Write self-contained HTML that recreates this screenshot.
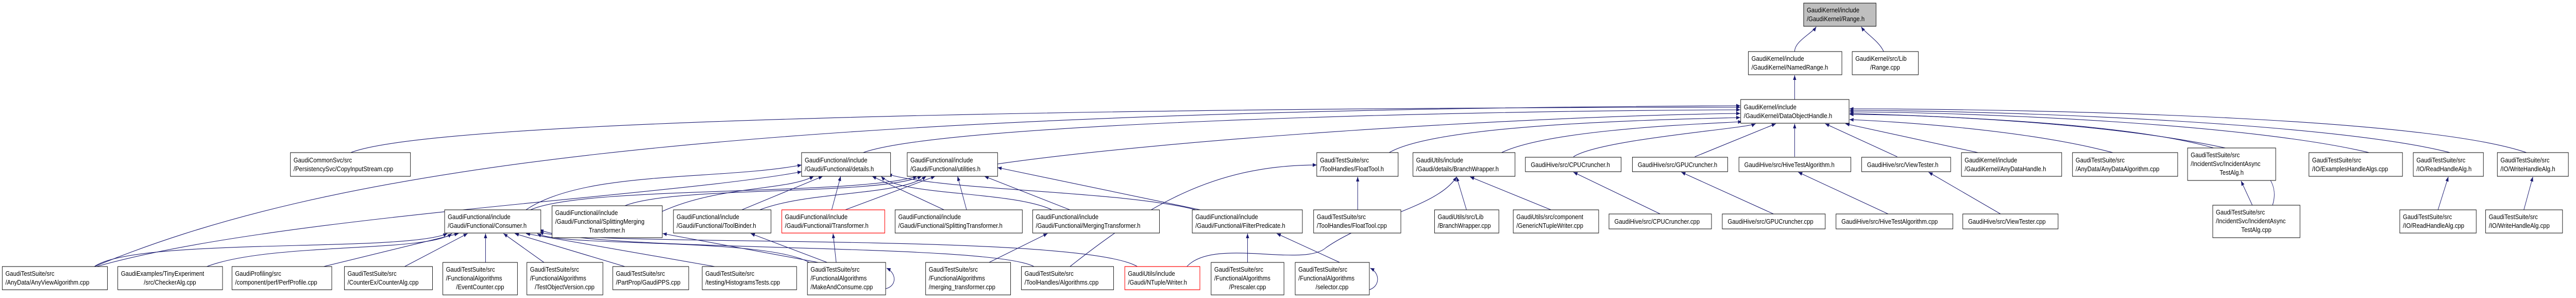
<!DOCTYPE html>
<html><head><meta charset="utf-8"><style>
html,body{margin:0;padding:0;background:#fff;width:100%;height:100%;overflow:hidden;}
svg{display:block;width:100vw;height:100vh;}
text{font-family:"Liberation Sans",sans-serif;font-size:13px;fill:#000;}
.b{fill:#fff;stroke:#000;stroke-width:1;}
.r{fill:#fff;stroke:#f00;stroke-width:1.2;}
.g{fill:#bfbfbf;stroke:#000;stroke-width:1;}
.e{fill:none;stroke:#191970;stroke-width:1.1;marker-end:url(#a);}
</style></head><body>
<svg viewBox="0 0 5730 578" preserveAspectRatio="none" xmlns="http://www.w3.org/2000/svg">
<defs><marker id="a" viewBox="0 0 10 10" refX="10" refY="5" markerWidth="9" markerHeight="9" orient="auto" markerUnits="userSpaceOnUse"><path d="M0,1 L10,5 L0,9 z" fill="#191970"/></marker></defs>

<g>
<path class="e" d="M3992,100 C3992,80 4030,65 4040,52"/>
<path class="e" d="M4190,100 C4180,80 4150,65 4140,52"/>
<path class="e" d="M3992,193 L3992,146"/>
<path class="e" d="M780,296 C1000,220 3000,208 3871,208"/>
<path class="e" d="M1920,296 C2100,240 3200,215 3871,213"/>
<path class="e" d="M2219,318 C2600,270 3400,225 3871,220"/>
<path class="e" d="M3090,296 C3200,240 3700,232 3871,228"/>
<path class="e" d="M3340,296 C3450,250 3800,240 3875,236"/>
<path class="e" d="M3500,304 C3560,270 3880,250 3905,240"/>
<path class="e" d="M3770,304 L3950,240"/>
<path class="e" d="M3992,304 L3992,240"/>
<path class="e" d="M4220,304 L4060,240"/>
<path class="e" d="M4400,296 L4105,240"/>
<path class="e" d="M4700,296 C4500,250 4200,235 4114,232"/>
<path class="e" d="M4950,287 C4700,240 4300,222 4114,222"/>
<path class="e" d="M5270,296 C5000,240 4400,218 4114,217"/>
<path class="e" d="M5450,296 C5200,240 4500,215 4114,214"/>
<path class="e" d="M5620,296 C5400,230 4600,212 4114,211"/>
<path class="e" d="M210,517 C700,340 1500,215 3871,205"/>
<path class="e" d="M5055,398 C5090,300 4900,240 4114,220"/>
<path class="e" d="M1170,407 C1300,330 1600,350 1783,320"/>
<path class="e" d="M1180,407 C1300,360 1900,380 2040,342"/>
<path class="e" d="M1473,410 C1600,360 1750,370 1810,342"/>
<path class="e" d="M1390,399 C1500,360 1950,380 2050,342"/>
<path class="e" d="M1650,407 L1830,342"/>
<path class="e" d="M1690,407 C1800,370 2000,380 2060,342"/>
<path class="e" d="M1850,407 L1870,342"/>
<path class="e" d="M1880,407 L2080,342"/>
<path class="e" d="M2100,407 L1940,342"/>
<path class="e" d="M2150,407 L2130,342"/>
<path class="e" d="M2340,407 C2250,370 2000,380 1960,342"/>
<path class="e" d="M2380,407 L2190,342"/>
<path class="e" d="M2660,407 C2500,370 2100,370 1975,338"/>
<path class="e" d="M2670,407 L2219,325"/>
<path class="e" d="M3020,407 L3020,343"/>
<path class="e" d="M3262,407 L3240,343"/>
<path class="e" d="M3450,407 L3270,343"/>
<path class="e" d="M3693,415 L3500,334"/>
<path class="e" d="M3945,415 L3740,334"/>
<path class="e" d="M4200,415 L4000,334"/>
<path class="e" d="M4450,415 L4290,334"/>
<path class="e" d="M5010,398 L4985,351"/>
<path class="e" d="M5423,407 L5446,343"/>
<path class="e" d="M5614,407 L5634,343"/>
<path class="e" d="M210,517 C300,460 900,490 995,453"/>
<path class="e" d="M215,517 C600,420 1500,380 1783,333"/>
<path class="e" d="M460,517 C600,470 950,490 1005,453"/>
<path class="e" d="M720,517 L1020,453"/>
<path class="e" d="M900,517 L1040,453"/>
<path class="e" d="M1080,509 L1080,453"/>
<path class="e" d="M1210,509 L1120,453"/>
<path class="e" d="M1390,517 L1145,453"/>
<path class="e" d="M1590,517 L1170,453"/>
<path class="e" d="M1800,509 C1700,460 1250,480 1195,453"/>
<path class="e" d="M1820,509 L1474,453"/>
<path class="e" d="M1840,509 L1670,453"/>
<path class="e" d="M1860,509 L1853,453"/>
<path class="e" d="M2200,509 L2330,453"/>
<path class="e" d="M2300,517 C2200,470 1300,490 1200,445"/>
<path class="e" d="M2380,517 C2550,400 2700,320 2929,320"/>
<path class="e" d="M2530,517 C2400,450 1300,480 1200,450"/>
<path class="e" d="M2640,517 C2700,460 2900,520 2950,480 C3050,420 3200,400 3240,343"/>
<path class="e" d="M2775,509 L2775,453"/>
<path class="e" d="M2980,509 L2840,453"/>
<path class="e" d="M1970,560 C1995,555 1995,530 1972,520"/>
<path class="e" d="M3046,562 C3070,555 3070,530 3048,520"/>
</g>

<g>
<rect class="g" x="4012" y="6" width="161" height="45"/><text x="4019" y="24">GaudiKernel/include</text><text x="4019" y="41">/GaudiKernel/Range.h</text>
<rect class="b" x="3889" y="100" width="208" height="45"/><text x="3896" y="118">GaudiKernel/include</text><text x="3896" y="135">/GaudiKernel/NamedRange.h</text>
<rect class="b" x="4120" y="100" width="147" height="45"/><text x="4127" y="118">GaudiKernel/src/Lib</text><text x="4193" y="135" text-anchor="middle">/Range.cpp</text>
<rect class="b" x="3872" y="193" width="241" height="46"/><text x="3879" y="212">GaudiKernel/include</text><text x="3879" y="229">/GaudiKernel/DataObjectHandle.h</text>

<rect class="b" x="646" y="296" width="267" height="46"/><text x="653" y="315">GaudiCommonSvc/src</text><text x="653" y="332">/PersistencySvc/CopyInputStream.cpp</text>
<rect class="b" x="1783" y="296" width="198" height="46"/><text x="1790" y="315">GaudiFunctional/include</text><text x="1790" y="332">/Gaudi/Functional/details.h</text>
<rect class="b" x="2018" y="296" width="201" height="46"/><text x="2025" y="315">GaudiFunctional/include</text><text x="2025" y="332">/Gaudi/Functional/utilities.h</text>
<rect class="b" x="2929" y="296" width="181" height="46"/><text x="2936" y="315">GaudiTestSuite/src</text><text x="2936" y="332">/ToolHandles/FloatTool.h</text>
<rect class="b" x="3143" y="296" width="227" height="46"/><text x="3150" y="315">GaudiUtils/include</text><text x="3150" y="332">/Gaudi/details/BranchWrapper.h</text>
<rect class="b" x="3393" y="305" width="213" height="28"/><text x="3405" y="324">GaudiHive/src/CPUCruncher.h</text>
<rect class="b" x="3631" y="305" width="212" height="28"/><text x="3643" y="324">GaudiHive/src/GPUCruncher.h</text>
<rect class="b" x="3868" y="305" width="249" height="28"/><text x="3880" y="324">GaudiHive/src/HiveTestAlgorithm.h</text>
<rect class="b" x="4141" y="305" width="198" height="28"/><text x="4153" y="324">GaudiHive/src/ViewTester.h</text>
<rect class="b" x="4363" y="296" width="223" height="46"/><text x="4370" y="315">GaudiKernel/include</text><text x="4370" y="332">/GaudiKernel/AnyDataHandle.h</text>
<rect class="b" x="4610" y="296" width="234" height="46"/><text x="4617" y="315">GaudiTestSuite/src</text><text x="4617" y="332">/AnyData/AnyDataAlgorithm.cpp</text>
<rect class="b" x="4866" y="287" width="196" height="63"/><text x="4873" y="305">GaudiTestSuite/src</text><text x="4873" y="322">/IncidentSvc/IncidentAsync</text><text x="4964" y="339" text-anchor="middle">TestAlg.h</text>
<rect class="b" x="5136" y="296" width="208" height="46"/><text x="5143" y="315">GaudiTestSuite/src</text><text x="5143" y="332">/IO/ExamplesHandleAlgs.cpp</text>
<rect class="b" x="5368" y="296" width="156" height="46"/><text x="5375" y="315">GaudiTestSuite/src</text><text x="5375" y="332">/IO/ReadHandleAlg.h</text>
<rect class="b" x="5555" y="296" width="158" height="46"/><text x="5562" y="315">GaudiTestSuite/src</text><text x="5562" y="332">/IO/WriteHandleAlg.h</text>

<rect class="b" x="989" y="407" width="214" height="45"/><text x="996" y="425">GaudiFunctional/include</text><text x="996" y="442">/Gaudi/Functional/Consumer.h</text>
<rect class="b" x="1228" y="399" width="245" height="62"/><text x="1235" y="417">GaudiFunctional/include</text><text x="1235" y="434">/Gaudi/Functional/SplittingMerging</text><text x="1350" y="451" text-anchor="middle">Transformer.h</text>
<rect class="b" x="1498" y="407" width="217" height="45"/><text x="1505" y="425">GaudiFunctional/include</text><text x="1505" y="442">/Gaudi/Functional/ToolBinder.h</text>
<rect class="r" x="1739" y="407" width="229" height="45"/><text x="1746" y="425">GaudiFunctional/include</text><text x="1746" y="442">/Gaudi/Functional/Transformer.h</text>
<rect class="b" x="1991" y="407" width="283" height="45"/><text x="1998" y="425">GaudiFunctional/include</text><text x="1998" y="442">/Gaudi/Functional/SplittingTransformer.h</text>
<rect class="b" x="2297" y="407" width="282" height="45"/><text x="2304" y="425">GaudiFunctional/include</text><text x="2304" y="442">/Gaudi/Functional/MergingTransformer.h</text>
<rect class="b" x="2652" y="407" width="245" height="45"/><text x="2659" y="425">GaudiFunctional/include</text><text x="2659" y="442">/Gaudi/Functional/FilterPredicate.h</text>
<rect class="b" x="2922" y="407" width="194" height="45"/><text x="2929" y="425">GaudiTestSuite/src</text><text x="2929" y="442">/ToolHandles/FloatTool.cpp</text>
<rect class="b" x="3191" y="407" width="143" height="45"/><text x="3198" y="425">GaudiUtils/src/Lib</text><text x="3198" y="442">/BranchWrapper.cpp</text>
<rect class="b" x="3366" y="407" width="190" height="45"/><text x="3373" y="425">GaudiUtils/src/component</text><text x="3373" y="442">/GenericNTupleWriter.cpp</text>
<rect class="b" x="3579" y="415" width="228" height="29"/><text x="3591" y="434">GaudiHive/src/CPUCruncher.cpp</text>
<rect class="b" x="3831" y="415" width="229" height="29"/><text x="3843" y="434">GaudiHive/src/GPUCruncher.cpp</text>
<rect class="b" x="4084" y="415" width="260" height="29"/><text x="4096" y="434">GaudiHive/src/HiveTestAlgorithm.cpp</text>
<rect class="b" x="4366" y="415" width="212" height="29"/><text x="4378" y="434">GaudiHive/src/ViewTester.cpp</text>
<rect class="b" x="4922" y="398" width="194" height="63"/><text x="4929" y="416">GaudiTestSuite/src</text><text x="4929" y="433">/IncidentSvc/IncidentAsync</text><text x="5019" y="450" text-anchor="middle">TestAlg.cpp</text>
<rect class="b" x="5338" y="407" width="170" height="45"/><text x="5345" y="425">GaudiTestSuite/src</text><text x="5345" y="442">/IO/ReadHandleAlg.cpp</text>
<rect class="b" x="5529" y="407" width="171" height="45"/><text x="5536" y="425">GaudiTestSuite/src</text><text x="5536" y="442">/IO/WriteHandleAlg.cpp</text>

<rect class="b" x="5" y="517" width="234" height="45"/><text x="12" y="535">GaudiTestSuite/src</text><text x="12" y="552">/AnyData/AnyViewAlgorithm.cpp</text>
<rect class="b" x="262" y="517" width="233" height="45"/><text x="269" y="535">GaudiExamples/TinyExperiment</text><text x="378" y="552" text-anchor="middle">/src/CheckerAlg.cpp</text>
<rect class="b" x="516" y="517" width="222" height="45"/><text x="523" y="535">GaudiProfiling/src</text><text x="523" y="552">/component/perf/PerfProfile.cpp</text>
<rect class="b" x="766" y="517" width="196" height="45"/><text x="773" y="535">GaudiTestSuite/src</text><text x="773" y="552">/CounterEx/CounterAlg.cpp</text>
<rect class="b" x="985" y="509" width="166" height="63"/><text x="992" y="527">GaudiTestSuite/src</text><text x="992" y="544">/FunctionalAlgorithms</text><text x="1068" y="561" text-anchor="middle">/EventCounter.cpp</text>
<rect class="b" x="1172" y="509" width="169" height="63"/><text x="1179" y="527">GaudiTestSuite/src</text><text x="1179" y="544">/FunctionalAlgorithms</text><text x="1256" y="561" text-anchor="middle">/TestObjectVersion.cpp</text>
<rect class="b" x="1363" y="517" width="169" height="45"/><text x="1370" y="535">GaudiTestSuite/src</text><text x="1370" y="552">/PartProp/GaudiPPS.cpp</text>
<rect class="b" x="1562" y="517" width="210" height="45"/><text x="1569" y="535">GaudiTestSuite/src</text><text x="1569" y="552">/testing/HistogramsTests.cpp</text>
<rect class="b" x="1796" y="509" width="174" height="63"/><text x="1803" y="527">GaudiTestSuite/src</text><text x="1803" y="544">/FunctionalAlgorithms</text><text x="1803" y="561">/MakeAndConsume.cpp</text>
<rect class="b" x="2059" y="509" width="189" height="63"/><text x="2066" y="527">GaudiTestSuite/src</text><text x="2066" y="544">/FunctionalAlgorithms</text><text x="2066" y="561">/merging_transformer.cpp</text>
<rect class="b" x="2272" y="517" width="205" height="45"/><text x="2279" y="535">GaudiTestSuite/src</text><text x="2279" y="552">/ToolHandles/Algorithms.cpp</text>
<rect class="r" x="2502" y="517" width="167" height="45"/><text x="2509" y="535">GaudiUtils/include</text><text x="2509" y="552">/Gaudi/NTuple/Writer.h</text>
<rect class="b" x="2694" y="509" width="162" height="63"/><text x="2701" y="527">GaudiTestSuite/src</text><text x="2701" y="544">/FunctionalAlgorithms</text><text x="2775" y="561" text-anchor="middle">/Prescaler.cpp</text>
<rect class="b" x="2881" y="509" width="165" height="63"/><text x="2888" y="527">GaudiTestSuite/src</text><text x="2888" y="544">/FunctionalAlgorithms</text><text x="2963" y="561" text-anchor="middle">/selector.cpp</text>
</g>
</svg>
</body></html>
